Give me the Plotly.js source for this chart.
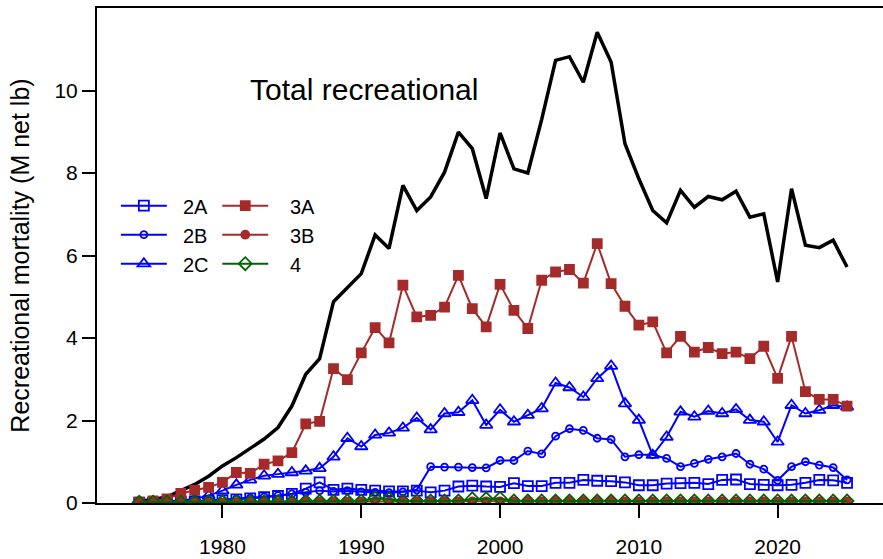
<!DOCTYPE html>
<html>
<head>
<meta charset="utf-8">
<script src="https://cdn.plot.ly/plotly-3.0.1.min.js"></script>
<style>html,body{margin:0;padding:0;background:#fff;}#chart{width:883px;height:559px;}</style>
</head>
<body>
<div id="chart"></div>
<script>
const years = [1974,1975,1976,1977,1978,1979,1980,1981,1982,1983,1984,1985,1986,1987,1988,1989,
  1990,1991,1992,1993,1994,1995,1996,1997,1998,1999,2000,2001,2002,2003,2004,2005,2006,2007,2008,2009,
  2010,2011,2012,2013,2014,2015,2016,2017,2018,2019,2020,2021,2022,2023,2024,2025];

const total = [0.05,0.08,0.15,0.30,0.45,0.65,0.90,1.10,1.32,1.55,
  1.83,2.35,3.12,3.50,4.88,5.22,5.56,6.50,6.17,7.70,
  7.09,7.42,8.02,8.99,8.59,7.38,8.97,8.10,8.00,9.30,
  10.73,10.82,10.20,11.41,10.69,8.71,7.86,7.09,6.79,7.58,
  7.17,7.43,7.35,7.56,6.93,7.01,5.36,7.62,6.25,6.19,
  6.37,5.72];

const a2A = [0.01,0.01,0.02,0.03,0.04,0.05,
  0.07,0.09,0.11,0.14,0.17,0.22,0.35,0.50,0.32,0.35,
  0.32,0.30,0.28,0.28,0.30,0.26,0.30,0.40,0.42,0.40,
  0.39,0.48,0.41,0.41,0.49,0.49,0.56,0.54,0.53,0.50,
  0.43,0.43,0.47,0.48,0.49,0.46,0.56,0.57,0.46,0.44,
  0.43,0.44,0.49,0.56,0.55,0.49];

const a2B = [0.01,0.01,0.02,0.03,0.04,0.06,
  0.08,0.10,0.12,0.15,0.18,0.22,0.26,0.30,0.28,0.30,
  0.27,0.26,0.25,0.27,0.32,0.88,0.87,0.87,0.86,0.85,
  1.03,1.03,1.26,1.19,1.62,1.80,1.76,1.57,1.54,1.12,
  1.17,1.17,1.08,0.88,0.96,1.06,1.12,1.20,0.94,0.82,
  0.55,0.88,1.00,0.92,0.86,0.56];

const a2C = [0.02,0.03,0.04,0.06,0.10,0.18,
  0.30,0.44,0.56,0.66,0.70,0.74,0.78,0.84,1.12,1.57,
  1.37,1.65,1.70,1.82,2.06,1.78,2.17,2.20,2.49,1.89,
  2.26,1.97,2.13,2.29,2.91,2.80,2.57,3.02,3.32,2.41,
  2.01,1.16,1.60,2.21,2.09,2.23,2.17,2.27,2.01,1.97,
  1.48,2.37,2.17,2.25,2.37,2.33];

const a3A = [0.02,0.05,0.10,0.23,0.31,0.38,
  0.50,0.74,0.72,0.94,1.02,1.22,1.92,1.98,3.26,2.99,
  3.64,4.25,3.88,5.28,4.51,4.55,4.75,5.52,4.71,4.27,
  5.30,4.67,4.23,5.40,5.60,5.66,5.33,6.29,5.32,4.77,
  4.31,4.39,3.64,4.04,3.66,3.77,3.62,3.66,3.50,3.80,
  3.02,4.04,2.70,2.51,2.51,2.35];

const a3B = [0.00,0.00,0.01,0.01,0.01,0.01,
  0.01,0.02,0.02,0.02,0.02,0.02,0.03,0.03,0.03,0.03,
  0.03,0.04,0.03,0.04,0.04,0.03,0.04,0.04,0.04,0.04,
  0.04,0.04,0.05,0.04,0.05,0.05,0.05,0.05,0.05,0.04,
  0.04,0.04,0.04,0.04,0.04,0.04,0.04,0.04,0.04,0.04,
  0.03,0.04,0.04,0.04,0.04,0.04];

const a4 = [0.02,0.02,0.02,0.02,0.03,0.03,
  0.03,0.03,0.03,0.03,0.03,0.03,0.04,0.04,0.04,0.05,
  0.05,0.12,0.10,0.05,0.05,0.05,0.05,0.05,0.10,0.10,
  0.11,0.05,0.05,0.05,0.05,0.05,0.05,0.05,0.05,0.05,
  0.05,0.05,0.05,0.05,0.05,0.05,0.05,0.05,0.05,0.05,
  0.05,0.05,0.05,0.05,0.05,0.05];

const seriesNames = ['2A','2B','2C','3A','3B','4'];
const yTickVals = [0,2,4,6,8,10];
const xTickVals = [1980,1990,2000,2010,2020];

const BLUE = '#0000FF', BROWN = '#A52A2A', GREEN = '#006400';
const FONT = 'Liberation Sans, Arial, sans-serif';

function tr(name, pad, y, color, symbol, size, legend) {
  return {
    x: years, y: y, name: pad + name, type: 'scatter', mode: 'lines+markers',
    line: {color: color, width: 2},
    marker: {color: color, symbol: symbol, size: size, line: {color: color, width: 1.8}},
    legend: legend, cliponaxis: true
  };
}

const PAD1 = '&nbsp;&nbsp;', PAD2 = '&nbsp;&nbsp;&nbsp;';

const data = [
  {x: years, y: total, type: 'scatter', mode: 'lines', name: 'Total',
   line: {color: '#000', width: 3.5}, showlegend: false},
  tr(seriesNames[0], PAD1, a2A, BLUE, 'square-open', 10, 'legend'),
  tr(seriesNames[1], PAD1, a2B, BLUE, 'circle-open', 7, 'legend'),
  tr(seriesNames[2], PAD1, a2C, BLUE, 'triangle-up-open', 11, 'legend'),
  tr(seriesNames[3], PAD2, a3A, BROWN, 'square', 9, 'legend2'),
  tr(seriesNames[4], PAD2, a3B, BROWN, 'circle', 8, 'legend2'),
  tr(seriesNames[5], PAD2, a4, GREEN, 'diamond-open', 10, 'legend2')
];

const legendCommon = {
  bgcolor: 'rgba(0,0,0,0)', borderwidth: 0,
  font: {family: FONT, size: 20, color: '#000'},
  xanchor: 'left', yanchor: 'top', traceorder: 'normal', itemclick: false,
  itemwidth: 46
};

const layout = {
  width: 883, height: 559,
  margin: {l: 97, r: 0, t: 8, b: 56},
  paper_bgcolor: '#fff', plot_bgcolor: '#fff',
  font: {family: FONT, color: '#000'},
  xaxis: {
    range: [1970.96, 2027.59], tickvals: xTickVals, ticktext: xTickVals.map(String),
    ticks: 'outside', ticklen: 13, tickwidth: 2, tickcolor: '#000',
    showline: true, linewidth: 2, linecolor: '#000', mirror: true,
    showgrid: false, zeroline: false, ticklabelstandoff: 11,
    tickfont: {family: FONT, size: 21, color: '#000'}
  },
  yaxis: {
    range: [0, 12], tickvals: yTickVals, ticktext: yTickVals.map(String),
    ticks: 'outside', ticklen: 13, tickwidth: 2, tickcolor: '#000',
    showline: true, linewidth: 2, linecolor: '#000',
    showgrid: false, zeroline: false,
    tickfont: {family: FONT, size: 21, color: '#000'},
    title: {text: 'Recreational mortality (M net lb)', font: {family: FONT, size: 25, color: '#000'}, standoff: 18}
  },
  legend: Object.assign({x: 0.024, y: 0.64}, legendCommon),
  legend2: Object.assign({x: 0.153, y: 0.64}, legendCommon),
  annotations: [{
    text: 'Total recreational', xref: 'paper', yref: 'paper',
    x: 0.34, y: 0.836, xanchor: 'center', yanchor: 'middle', showarrow: false,
    font: {family: FONT, size: 30, color: '#000'}
  }]
};

Plotly.newPlot('chart', data, layout, {displayModeBar: false, staticPlot: true});
</script>
</body>
</html>
